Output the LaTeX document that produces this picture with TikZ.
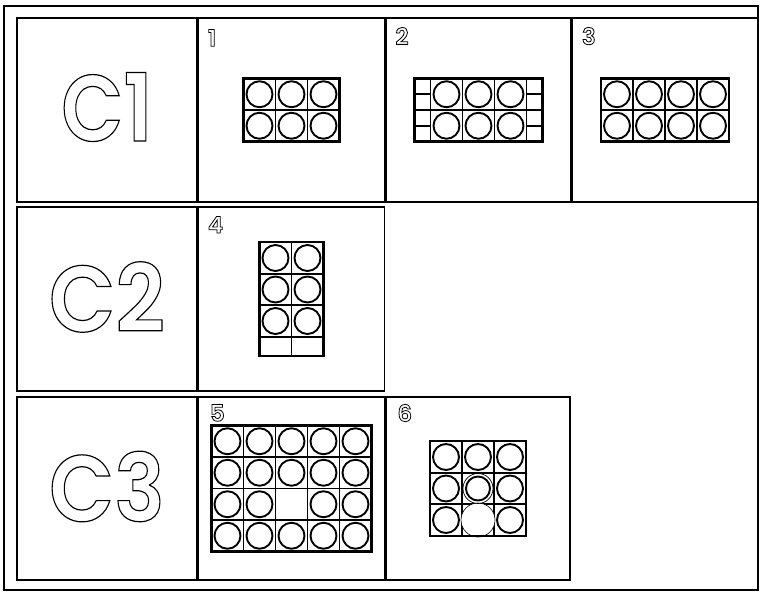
\documentclass[tikz,border=0pt]{standalone}
\usepackage{fontspec}
\newfontfamily\tagfont{Poppins SemiBold}
\newcommand\hollow[2][1.2]{\special{pdf:literal direct #1 w 1 Tr}#2\special{pdf:literal direct 0 Tr}}
\usetikzlibrary{positioning}

\begin{document}
\begin{tikzpicture}[x=1pt,y=-1pt,
  panel/.style={draw,line width=1.5pt,inner sep=0pt,minimum height=184pt},
  cell/.style={line width=1.7pt},
  edge/.style={line width=2.2pt},
  ring/.style={line width=1.9pt},
  bigtag/.style={font=\tagfont\fontsize{94}{94}\selectfont},
  numtag/.style={inner sep=0pt,anchor=north west,font=\tagfont\fontsize{23}{23}\selectfont}]
  \useasboundingbox (0,0) rectangle (760,595);
  % Outer frame
  \draw[line width=1.8pt] (4,6) rectangle (758,590);
  % Row C1
  \node[panel,minimum width=180pt] (c1) at (107,110) {};
  \node[panel,minimum width=186pt,right=0pt of c1] (p1) {};
  \node[panel,minimum width=185pt,right=0pt of p1] (p2) {};
  \node[panel,minimum width=185pt,right=0pt of p2] (p3) {};
  % Row C2
  \node[panel,minimum width=180pt] (c2) at (107,299) {};
  \node[panel,minimum width=186pt,right=0pt of c2] (p4) {};
  % Row C3
  \node[panel,minimum width=180pt,minimum height=183pt] (c3) at (107,488.5) {};
  \node[panel,minimum width=186pt,minimum height=183pt,right=0pt of c3] (p5) {};
  \node[panel,minimum width=184pt,minimum height=183pt,right=0pt of p5] (p6) {};
  % Row tags
  \node[bigtag] at ([yshift=3pt]c1.center) {\scalebox{0.86}[1]{\hollow{C1}}};
  \node[bigtag] at ([yshift=2pt]c2.center) {\scalebox{0.92}[1]{\hollow{C2}}};
  \node[bigtag] at ([yshift=2pt]c3.center) {\scalebox{0.9}[1]{\hollow{C3}}};
  % Panel numbers
  \node[numtag,below right=12pt and 10pt of p1.north west] {\hollow[0.8]{1}};
  \node[numtag,below right=10pt and 10pt of p2.north west] {\hollow[0.8]{2}};
  \node[numtag,below right=10pt and 10pt of p3.north west] {\hollow[0.8]{3}};
  \node[numtag,below right=10pt and 10pt of p4.north west] {\hollow[0.8]{4}};
  \node[numtag,below right=8pt and 12pt of p5.north west] {\hollow[0.8]{5}};
  \node[numtag,below right=8pt and 12pt of p6.north west] {\hollow[0.8]{6}};
  % Grid 1
  \begin{scope}[shift={(p1.center)}]
    \draw[cell] (-48,0) -- (48,0);
    \foreach \x in {-16,16} \draw[cell] (\x,-31.5) -- (\x,31.5);
    \draw[edge] (-48,-31.5) rectangle (48,31.5);
    \foreach \x in {-32,0,32} \foreach \y in {-15.75,15.75}
      \draw[ring] (\x,\y) circle[radius=13pt];
  \end{scope}
  % Grid 2
  \begin{scope}[shift={(p2.center)}]
    \draw[cell] (-64,0) -- (64,0);
    \foreach \x in {-48,-16,16,48} \draw[cell] (\x,-31.5) -- (\x,31.5);
    \foreach \y in {-15.75,15.75} \draw[cell] (-64,\y) -- (-48,\y) (48,\y) -- (64,\y);
    \draw[edge] (-64,-31.5) rectangle (64,31.5);
    \foreach \x in {-32,0,32} \foreach \y in {-15.75,15.75}
      \draw[ring] (\x,\y) circle[radius=13pt];
  \end{scope}
  % Grid 3
  \begin{scope}[shift={(p3.center)}]
    \draw[cell] (-64,0) -- (64,0);
    \foreach \x in {-32,0,32} \draw[cell] (\x,-31.5) -- (\x,31.5);
    \draw[edge] (-64,-31.5) rectangle (64,31.5);
    \foreach \x in {-48,-16,16,48} \foreach \y in {-15.75,15.75}
      \draw[ring] (\x,\y) circle[radius=13pt];
  \end{scope}
  % Grid 4
  \begin{scope}[shift={(p4.center)}]
    \draw[cell] (0,-56.75) -- (0,56.75);
    \foreach \y in {-25.25,6.25,37.75} \draw[cell] (-32,\y) -- (32,\y);
    \draw[edge] (-32,-56.75) rectangle (32,56.75);
    \foreach \x in {-16,16} \foreach \y in {-41,-9.5,22}
      \draw[ring] (\x,\y) circle[radius=13pt];
  \end{scope}
  % Grid 5
  \begin{scope}[shift={(p5.center)}]
    \foreach \x in {-48,-16,16,48} \draw[cell] (\x,-63) -- (\x,63);
    \foreach \y in {-31.5,0,31.5} \draw[cell] (-80,\y) -- (80,\y);
    \draw[edge] (-80,-63) rectangle (80,63);
    \foreach \x in {-64,-32,0,32,64} \foreach \y in {-47.25,-15.75,47.25}
      \draw[ring] (\x,\y) circle[radius=13pt];
    \foreach \x in {-64,-32,32,64}
      \draw[ring] (\x,15.75) circle[radius=13pt];
  \end{scope}
  % Grid 6
  \begin{scope}[shift={(p6.center)}]
    \foreach \x in {-16,16} \draw[cell] (\x,-47.25) -- (\x,47.25);
    \foreach \y in {-15.75,15.75} \draw[cell] (-48,\y) -- (48,\y);
    \draw[line width=0.6pt,fill=white] (0,31.5) circle[radius=17pt];
    \draw[edge] (-48,-47.25) rectangle (48,47.25);
    \foreach \x in {-32,32} \foreach \y in {-31.5,0,31.5}
      \draw[ring] (\x,\y) circle[radius=13pt];
    \draw[ring] (0,-31.5) circle[radius=13pt];
    \draw[line width=0.7pt] (0,0) circle[radius=15pt];
    \draw[ring] (0,0) circle[radius=12pt];
  \end{scope}
\end{tikzpicture}
\end{document}
